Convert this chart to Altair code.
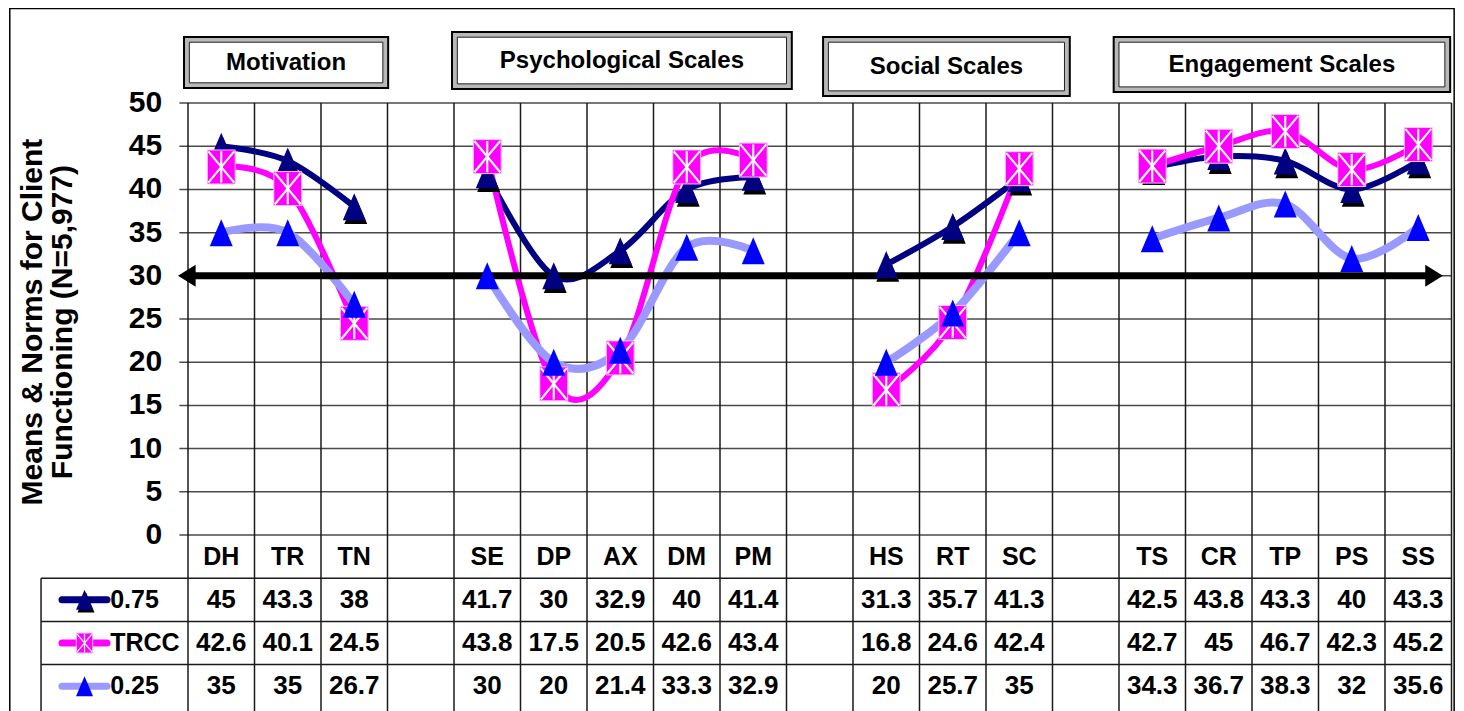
import altair as alt
import pandas as pd

# ---------------- data ----------------
categories = ["DH", "TR", "TN", "", "SE", "DP", "AX", "DM", "PM", "",
              "HS", "RT", "SC", "", "TS", "CR", "TP", "PS", "SS"]
q75 = [45, 43.3, 38, None, 41.7, 30, 32.9, 40, 41.4, None,
       31.3, 35.7, 41.3, None, 42.5, 43.8, 43.3, 40, 43.3]
trcc = [42.6, 40.1, 24.5, None, 43.8, 17.5, 20.5, 42.6, 43.4, None,
        16.8, 24.6, 42.4, None, 42.7, 45, 46.7, 42.3, 45.2]
q25 = [35, 35, 26.7, None, 30, 20, 21.4, 33.3, 32.9, None,
       20, 25.7, 35, None, 34.3, 36.7, 38.3, 32, 35.6]
series_names = ["0.75", "TRCC", "0.25"]
group_names = ["Motivation", "Psychological Scales", "Social Scales", "Engagement Scales"]
y_ticks = [0, 5, 10, 15, 20, 25, 30, 35, 40, 45, 50]
reference_level = 30
y_title = ["Means & Norms for Client", "Functioning (N=5,977)"]

# ---------------- layout helpers ----------------
W, H = 1448, 703
NCOL = len(categories)
XS = alt.Scale(domain=[-2.7068, 19.0677], nice=False, zero=False)
YS = alt.Scale(domain=[-20.37, 61.0], nice=False, zero=False)
FONT = "Liberation Sans, Arial, sans-serif"

COLORS = {"0.75": "#000080", "TRCC": "#FF00FF", "0.25": "#9999FF"}
LINE_W = {"0.75": 6, "TRCC": 6, "0.25": 8}

TRI = "M0,-1L0.85,1L-0.85,1Z"
SQR = "M-0.82,-1L0.82,-1L0.82,1L-0.82,1Z"
AST = "M0,-0.92L0,0.92M-0.76,-0.92L0.76,0.92M0.76,-0.92L-0.76,0.92"


def enc_xy(extra=None):
    d = dict(x=alt.X("x:Q", scale=XS, axis=None), y=alt.Y("y:Q", scale=YS, axis=None))
    if extra:
        d.update(extra)
    return d


def rules(df, color, width, cap="butt"):
    return alt.Chart(df).mark_rule(color=color, strokeWidth=width, strokeCap=cap).encode(
        x=alt.X("x:Q", scale=XS, axis=None), x2="x2:Q",
        y=alt.Y("y:Q", scale=YS, axis=None), y2="y2:Q")


def rects(df, **kw):
    return alt.Chart(df).mark_rect(**kw).encode(
        x=alt.X("x:Q", scale=XS, axis=None), x2="x2:Q",
        y=alt.Y("y:Q", scale=YS, axis=None), y2="y2:Q")


# ---------------- long data ----------------
rows = []
for name, vals in zip(series_names, [q75, trcc, q25]):
    seg = 0
    for i, (c, v) in enumerate(zip(categories, vals)):
        if c == "":
            seg += 1
            continue
        rows.append(dict(series=name, cat=c, x=i + 0.5, y=v, seg=seg))
df = pd.DataFrame(rows)

# grid
hgrid = pd.DataFrame([dict(x=-0.13, x2=NCOL, y=t, y2=t) for t in y_ticks])
vgrid = pd.DataFrame([dict(x=i, x2=i, y=50, y2=-20.37) for i in range(NCOL + 1)])
tgrid = pd.DataFrame([dict(x=-2.21, x2=NCOL, y=-5 * k, y2=-5 * k) for k in (1, 2, 3)]
                     + [dict(x=-2.21, x2=-2.21, y=-5, y2=-20.37)])
frame = pd.DataFrame([dict(x=-2.68, x2=19.04, y=60.95, y2=-25)])

# header boxes (data-unit bounds)
boxes = pd.DataFrame([
    dict(name=group_names[0], x=-0.06, x2=3.01, y=57.64, y2=51.74),
    dict(name=group_names[1], x=3.97, x2=9.08, y=58.22, y2=51.62),
    dict(name=group_names[2], x=9.55, x2=13.26, y=57.64, y2=50.81),
    dict(name=group_names[3], x=13.92, x2=18.98, y=57.64, y2=51.27),
])
inner = boxes.copy()
inner["x"] = inner["x"] + 0.08
inner["x2"] = inner["x2"] - 0.08
inner["y"] = inner["y"] - 0.6
inner["y2"] = inner["y2"] + 0.6
boxes["cx"] = (boxes["x"] + boxes["x2"]) / 2
boxes["cy"] = (boxes["y"] + boxes["y2"]) / 2

# tables
cat_df = pd.DataFrame([dict(x=i + 0.5, y=-2.5, label=c) for i, c in enumerate(categories) if c])
val_rows = []
for si, (name, vals) in enumerate(zip(series_names, [q75, trcc, q25])):
    for i, v in enumerate(vals):
        if v is not None:
            val_rows.append(dict(x=i + 0.5, y=-7.5 - 5 * si, label=f"{v:g}"))
val_df = pd.DataFrame(val_rows)
leg_df = pd.DataFrame([dict(series=n, x=-1.895, x2=-1.218, xm=-1.556, xl=-1.17,
                            y=-7.5 - 5 * si, y2=-7.5 - 5 * si)
                       for si, n in enumerate(series_names)])
tick_df = pd.DataFrame([dict(x=-0.39, y=t, label=str(t)) for t in y_ticks])
title_df = pd.DataFrame([dict(x=-2.33, y=24.65, label=y_title[0]),
                         dict(x=-1.88, y=24.65, label=y_title[1])])

arrow_df = pd.DataFrame([dict(x=-0.15 + 0.2, x2=18.87 - 0.2, y=reference_level, y2=reference_level)])
arrow_l = pd.DataFrame([dict(x=-0.15, y=reference_level)])
arrow_r = pd.DataFrame([dict(x=18.87, y=reference_level)])

# ---------------- layers ----------------
layers = []
layers.append(rects(frame, fill="white", stroke="black", strokeWidth=1.5))
layers.append(rules(hgrid, "#4a4a4a", 1.5))
layers.append(rules(vgrid, "#1a1a1a", 1.5))
layers.append(rules(tgrid, "#1a1a1a", 1.5))

# header boxes
layers.append(rects(boxes, fill="#b8b8b8", stroke="black", strokeWidth=2))
layers.append(rects(inner, fill="white", stroke="#222", strokeWidth=1))
layers.append(alt.Chart(boxes).mark_text(font=FONT, fontSize=24, fontWeight="bold", color="black",
                                         align="center", baseline="middle").encode(
    x=alt.X("cx:Q", scale=XS, axis=None), y=alt.Y("cy:Q", scale=YS, axis=None), text="name:N"))

# series lines
for name in series_names:
    layers.append(alt.Chart(df[df.series == name]).mark_line(
        interpolate="cardinal", tension=0, color=COLORS[name], strokeWidth=LINE_W[name],
        strokeCap="round", strokeJoin="round").encode(
        **enc_xy(dict(detail="seg:N", order="x:Q"))))

# reference arrow
layers.append(rules(arrow_df, "black", 7))
layers.append(alt.Chart(arrow_l).mark_point(shape="M0,0L1.6,-1L1.6,1Z", size=484, filled=True,
                                            color="black", opacity=1, strokeWidth=0).encode(**enc_xy()))
layers.append(alt.Chart(arrow_r).mark_point(shape="M0,0L-1.6,-1L-1.6,1Z", size=484, filled=True,
                                            color="black", opacity=1, strokeWidth=0).encode(**enc_xy()))


def markers(data, name, size, xfield="x"):
    out = []
    e = dict(x=alt.X(f"{xfield}:Q", scale=XS, axis=None), y=alt.Y("y:Q", scale=YS, axis=None))
    if name == "0.75":
        out.append(alt.Chart(data).mark_point(shape=TRI, size=size, filled=True, color="black",
                                              opacity=1, strokeWidth=0, xOffset=1.5,
                                              yOffset=size ** 0.5 * 0.14).encode(**e))
        out.append(alt.Chart(data).mark_point(shape=TRI, size=size, filled=True, color="#000080",
                                              opacity=1, strokeWidth=0).encode(**e))
    elif name == "TRCC":
        out.append(alt.Chart(data).mark_point(shape=SQR, size=size, filled=True, color="#FF00FF",
                                              opacity=1, stroke="#ffc0ff", strokeWidth=1).encode(**e))
        out.append(alt.Chart(data).mark_point(shape=AST, size=size, filled=False, color="white",
                                              opacity=1, strokeWidth=max(1.2, size ** 0.5 / 16)).encode(**e))
    else:
        out.append(alt.Chart(data).mark_point(shape=TRI, size=size, filled=True, color="#0000FF",
                                              opacity=1, strokeWidth=0).encode(**e))
    return out


for name in series_names:
    layers.extend(markers(df[df.series == name], name, 1156 if name == "TRCC" else 729))

# y tick labels and title
layers.append(alt.Chart(tick_df).mark_text(font=FONT, fontSize=30, fontWeight="bold", color="black",
                                           align="right", baseline="middle").encode(
    **enc_xy(dict(text="label:N"))))
layers.append(alt.Chart(title_df).mark_text(font=FONT, fontSize=30, fontWeight="bold", color="black",
                                            align="center", baseline="middle", angle=270).encode(
    **enc_xy(dict(text="label:N"))))

# table text
layers.append(alt.Chart(cat_df).mark_text(font=FONT, fontSize=25, fontWeight="bold", color="black",
                                          align="center", baseline="middle").encode(
    **enc_xy(dict(text="label:N"))))
layers.append(alt.Chart(val_df).mark_text(font=FONT, fontSize=26, fontWeight="bold", color="black",
                                          align="center", baseline="middle").encode(
    **enc_xy(dict(text="label:N"))))

# legend keys in table
for name in series_names:
    sub = leg_df[leg_df.series == name]
    layers.append(rules(sub, COLORS[name], 7, cap="round"))
    layers.extend(markers(sub, name, 400, xfield="xm"))
layers.append(alt.Chart(leg_df).mark_text(font=FONT, fontSize=25, fontWeight="bold", color="black",
                                          align="left", baseline="middle").encode(
    x=alt.X("xl:Q", scale=XS, axis=None), y=alt.Y("y:Q", scale=YS, axis=None), text="series:N"))

chart = alt.layer(*layers).properties(
    width=W, height=H, autosize=alt.AutoSizeParams(type="none"), padding=0
).configure_view(stroke=None)

chart.save("out.html", embed_options={"renderer": "svg", "actions": False})
